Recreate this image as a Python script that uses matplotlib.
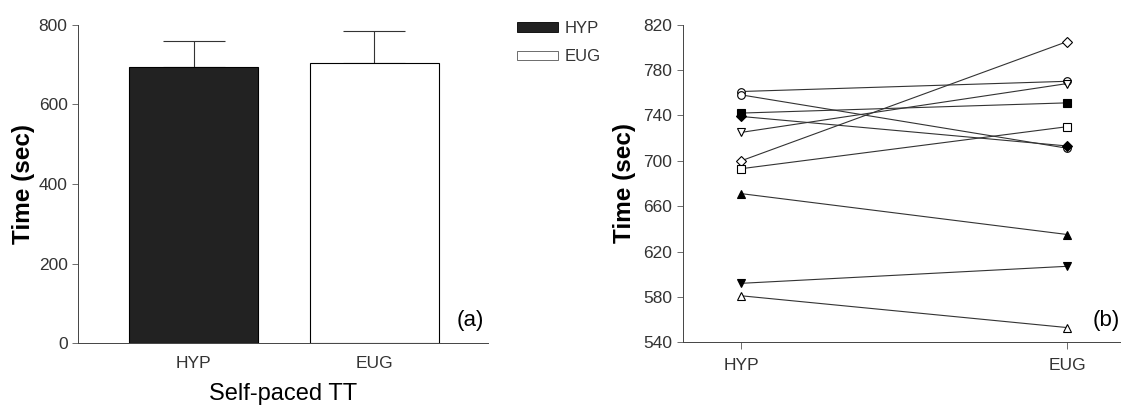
import numpy as np
import matplotlib
matplotlib.use('Agg')
import matplotlib.pyplot as plt
from matplotlib.patches import Patch

plt.rcParams['font.family'] = ['Liberation Sans', 'DejaVu Sans']

# panel (a): group means and upper error
groups = ['HYP', 'EUG']
mean_time = [695, 705]
err_time = [65, 80]

# panel (b): individual subjects, HYP -> EUG
hyp_vals = [761, 758, 742, 739, 725, 700, 693, 671, 592, 581]
eug_vals = [770, 711, 751, 713, 768, 805, 730, 635, 607, 553]
markers = ['o', 'o', 's', 'D', 'v', 'D', 's', '^', 'v', '^']
filled = [False, False, True, True, False, False, False, True, True, False]

tick_col = '#333333'
tick_fs = 12.5

fig = plt.figure(figsize=(11.21, 4.09), dpi=100)

# ---- panel (a) ----
ax1 = fig.add_axes([0.0696, 0.161, 0.366, 0.778])
xpos = np.arange(len(groups))
ax1.bar(xpos, mean_time, width=0.715, color=['#222222', 'white'],
        edgecolor='black', linewidth=0.8, zorder=2)
ax1.errorbar(xpos, mean_time, yerr=[[0, 0], err_time], fmt='none',
             ecolor='#333333', elinewidth=0.8, capsize=22, capthick=0.8, zorder=1)
ax1.set_xlim(-0.64, 1.63)
ax1.set_ylim(0, 800)
ax1.set_yticks([0, 200, 400, 600, 800])
ax1.set_xticks(xpos)
ax1.set_xticklabels(groups)
ax1.tick_params(axis='x', length=0, pad=9, labelsize=tick_fs, labelcolor=tick_col)
ax1.tick_params(axis='y', length=4, width=0.6, labelsize=tick_fs, labelcolor=tick_col, color='#555555')
for s in ['top', 'right']:
    ax1.spines[s].set_visible(False)
for s in ['left', 'bottom']:
    ax1.spines[s].set_linewidth(0.7)
    ax1.spines[s].set_color('#444444')
ax1.set_ylabel('Time (sec)', fontsize=17.5, fontweight='bold', labelpad=3)
ax1.set_xlabel('Self-paced TT', fontsize=17, labelpad=9)
ax1.text(0.99, 0.07, '(a)', transform=ax1.transAxes, ha='right', va='center', fontsize=16)

handles = [Patch(facecolor='#222222', edgecolor='black', linewidth=0.6, label='HYP'),
           Patch(facecolor='white', edgecolor='#555555', linewidth=0.6, label='EUG')]
fig.legend(handles=handles, loc='upper left', bbox_to_anchor=(0.448, 0.985),
           frameon=False, fontsize=12, handlelength=2.45, handleheight=0.5,
           handletextpad=0.4, labelspacing=0.8, labelcolor=tick_col)

# ---- panel (b) ----
ax2 = fig.add_axes([0.609, 0.163, 0.391, 0.777])
for h, e, m, f in zip(hyp_vals, eug_vals, markers, filled):
    ax2.plot([0, 1], [h, e], color='#333333', linewidth=0.8,
             marker=m, markersize=5.5, markeredgewidth=0.8,
             markeredgecolor='black', markerfacecolor='black' if f else 'white')
ax2.set_xlim(-0.18, 1.165)
ax2.set_ylim(540, 820)
ax2.set_yticks(np.arange(540, 821, 40))
ax2.set_xticks([0, 1])
ax2.set_xticklabels(groups)
ax2.tick_params(axis='x', length=5, width=0.6, pad=6, labelsize=tick_fs, labelcolor=tick_col, color='#555555')
ax2.tick_params(axis='y', length=4, width=0.6, labelsize=tick_fs, labelcolor=tick_col, color='#555555')
for s in ['top', 'right']:
    ax2.spines[s].set_visible(False)
for s in ['left', 'bottom']:
    ax2.spines[s].set_linewidth(0.7)
    ax2.spines[s].set_color('#444444')
ax2.set_ylabel('Time (sec)', fontsize=17.5, fontweight='bold', labelpad=5)
ax2.text(0.998, 0.07, '(b)', transform=ax2.transAxes, ha='right', va='center', fontsize=16)

fig.savefig('out.png', dpi=100)
